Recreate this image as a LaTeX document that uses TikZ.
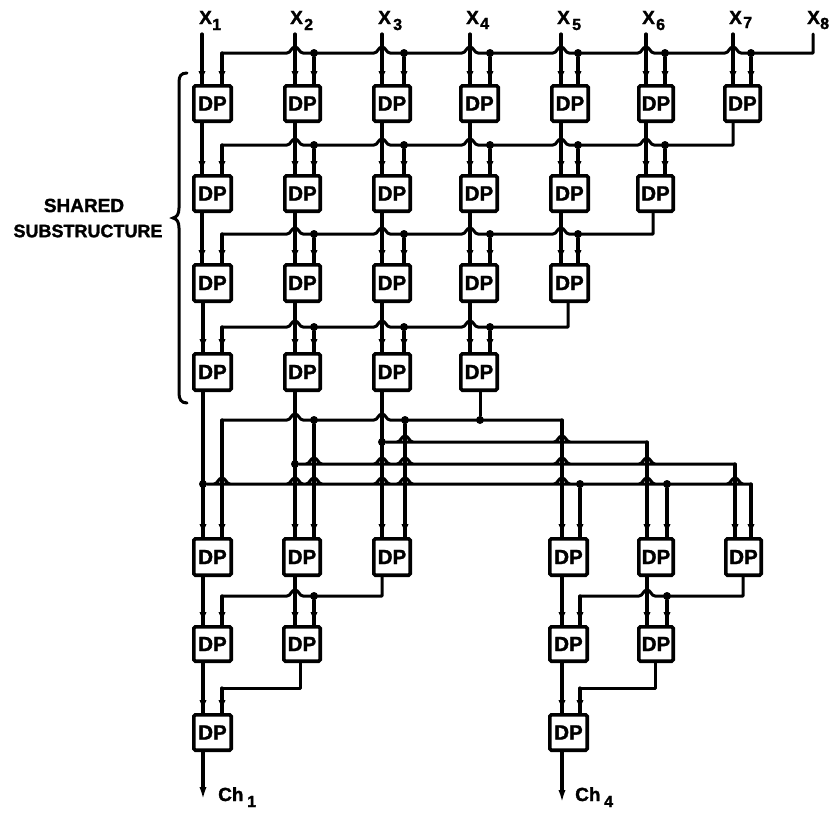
\documentclass[tikz,border=0pt]{standalone}
\usepackage{fontspec}
\setmainfont{Liberation Sans}[BoldFeatures={FakeBold=1.6}]
\usetikzlibrary{arrows.meta,decorations.markings}
\newcommand\dpbox[8]{%
  \node[dpnode,minimum width={(#3-#2-3.6)*1pt},minimum height={(#5-#4-3.6)*1pt}] (#1) at ({(#2+#3)/2},{(#4+#5)/2}) {DP};
  \coordinate (#1-l) at (#6,#4);
  \coordinate (#1-r) at (#7,#4);
  \coordinate (#1-o) at (#8,#5);
}
\newcommand\hops[2]{\foreach \h in {#2} { -- (\h-8,#1) .. controls (\h-4,#1) and (\h-4,#1-6) .. (\h,#1-6) .. controls (\h+4,#1-6) and (\h+4,#1) .. (\h+8,#1) }}
\newcommand\lab[7]{%
  \node[labtext,anchor=base west] (#1) at (#2,#3) {#4};
  \node[subtext,anchor=base west] (#1s) at (#5,#3+#7) {#6};
}
\tikzset{
  dpnode/.style={draw=black,line width=3.6pt,rounded corners=1.5pt,inner sep=0pt,outer sep=0pt,fill=white,
    font=\fontsize{20.5}{20.5}\selectfont\bfseries},
  wire/.style={draw=black,line width=3.2pt,line cap=round},
  bus/.style={draw=black,line width=3pt,line cap=round,line join=round},
  feed/.style={wire,postaction={decorate,decoration={markings,mark=at position -3pt with {\arrow{Latex[length=10pt,width=7.5pt]}}}}},
  outwire/.style={wire,-{Latex[length=14pt,width=7pt]}},
  junct/.style={circle,fill=black,inner sep=0pt,minimum size=8pt},
  labtext/.style={inner sep=0pt,font=\fontsize{19}{19}\selectfont\bfseries},
  subtext/.style={inner sep=0pt,font=\fontsize{16}{16}\selectfont\bfseries},
  sharedtext/.style={inner sep=0pt,font=\fontsize{19}{19}\selectfont\bfseries},
  subtitle/.style={inner sep=0pt,font=\fontsize{18}{18}\selectfont\bfseries},
}
\begin{document}
\begin{tikzpicture}[x=1pt,y=-1pt]
\useasboundingbox (0,0) rectangle (830,812);
% boxes: name, xl, xr, yt, yb, left in, right in, out
\dpbox{d11}{192}{233}{84}{123}{202}{222}{202}
\dpbox{d12}{283}{322}{84}{123}{295}{314}{295}
\dpbox{d13}{372}{412}{84}{123}{382}{404}{382}
\dpbox{d14}{459}{500}{84}{123}{470}{490}{470}
\dpbox{d15}{550}{590}{84}{123}{561}{578}{561}
\dpbox{d16}{637}{675}{84}{123}{646}{665}{646}
\dpbox{d17}{723}{762}{84}{123}{733}{751}{733}
\dpbox{d21}{192}{233}{174}{213}{202}{222}{202}
\dpbox{d22}{283}{322}{174}{213}{295}{314}{295}
\dpbox{d23}{372}{412}{174}{213}{382}{404}{382}
\dpbox{d24}{459}{499}{174}{213}{470}{490}{470}
\dpbox{d25}{549}{590}{174}{213}{561}{578}{561}
\dpbox{d26}{636}{675}{174}{213}{646}{665}{653}
\dpbox{d31}{192}{233}{263}{303}{202}{222}{203}
\dpbox{d32}{283}{322}{263}{303}{295}{314}{295}
\dpbox{d33}{372}{412}{263}{303}{382}{404}{382}
\dpbox{d34}{459}{499}{263}{303}{470}{490}{470}
\dpbox{d35}{549}{590}{263}{303}{561}{578}{568}
\dpbox{d41}{192}{233}{352}{392}{203}{222}{203}
\dpbox{d42}{283}{322}{352}{392}{295}{314}{295}
\dpbox{d43}{372}{412}{352}{392}{382}{404}{382}
\dpbox{d44}{459}{499}{352}{392}{470}{490}{480}
\dpbox{d51}{192}{233}{537}{577}{203}{222}{203}
\dpbox{d52}{282}{322}{537}{577}{295}{314}{295}
\dpbox{d53}{372}{412}{537}{577}{382}{405}{382}
\dpbox{d55}{548}{589}{537}{577}{562}{580}{562}
\dpbox{d56}{637}{675}{537}{577}{647}{667}{647}
\dpbox{d57}{724}{763}{537}{577}{735}{751}{743}
\dpbox{d61}{192}{233}{625}{663}{203}{222}{203}
\dpbox{d62}{282}{322}{625}{663}{295}{314}{300}
\dpbox{d65}{548}{589}{625}{663}{562}{580}{562}
\dpbox{d66}{637}{675}{625}{663}{647}{667}{655}
\dpbox{d71}{192}{233}{713}{752}{203}{222}{203}
\dpbox{d75}{548}{589}{713}{752}{562}{580}{562}
% free ends
\foreach \n/\x in {1/202,2/295,3/382,4/470,5/561,6/646,7/733,8/813} \coordinate (x\n) at (\x,34);
\coordinate (ch1end) at (203,801);
\coordinate (ch4end) at (562,804);
% horizontal buses
\coordinate (b1s) at (222,53); \coordinate (b1e) at (813,53);
\draw[bus] (b1s) \hops{53}{295,382,470,561,646,733} -- (b1e) -- (x8);
\coordinate (b2s) at (222,145); \coordinate (b2e) at (733,145);
\draw[bus] (b2s) \hops{145}{295,382,470,561,646} -- (b2e) -- (d17-o);
\coordinate (b3s) at (222,234); \coordinate (b3e) at (653,234);
\draw[bus] (b3s) \hops{234}{295,382,470,561} -- (b3e) -- (d26-o);
\coordinate (b4s) at (222,327); \coordinate (b4e) at (568,327);
\draw[bus] (b4s) \hops{327}{295,382,470} -- (b4e) -- (d35-o);
% fan-out of the shared substructure
\coordinate (c1s) at (222,420); \coordinate (c1e) at (562,420);
\draw[bus] (c1s) \hops{420}{295,382} -- (c1e);
\node[junct] (j44) at (480,420) {};
\draw[bus] (d44-o) -- (j44);
\node[junct] (j2) at (382,442) {};
\coordinate (c2e) at (647,442);
\draw[bus] (j2) \hops{442}{405,562} -- (c2e);
\node[junct] (j3) at (295,464) {};
\coordinate (c3e) at (735,464);
\draw[bus] (j3) \hops{464}{314,382,405,562,647} -- (c3e);
\node[junct] (j4) at (203,484) {};
\coordinate (c4e) at (751,484);
\draw[bus] (j4) \hops{484}{222,295,314,382,405,562,647,735} -- (c4e);
% lower buses
\coordinate (e1s) at (222,596); \coordinate (e1e) at (382,596);
\draw[bus] (e1s) \hops{596}{295} -- (e1e) -- (d53-o);
\coordinate (e2s) at (580,596); \coordinate (e2e) at (743,596);
\draw[bus] (e2s) \hops{596}{647} -- (e2e) -- (d57-o);
\coordinate (f1s) at (222,688); \coordinate (f1e) at (300,688);
\draw[bus] (f1s) -- (f1e) -- (d62-o);
\coordinate (f2s) at (580,688); \coordinate (f2e) at (655,688);
\draw[bus] (f2s) -- (f2e) -- (d66-o);
% main feeds
\foreach \n in {1,...,7} \draw[feed] (x\n) -- (d1\n-l);
\foreach \n in {1,...,6} \draw[feed] (d1\n-o) -- (d2\n-l);
\foreach \n in {1,...,5} \draw[feed] (d2\n-o) -- (d3\n-l);
\foreach \n in {1,...,4} \draw[feed] (d3\n-o) -- (d4\n-l);
\foreach \n in {1,2,3} \draw[feed] (d4\n-o) -- (d5\n-l);
\draw[feed] (d51-o) -- (d61-l);
\draw[feed] (d52-o) -- (d62-l);
\draw[feed] (d55-o) -- (d65-l);
\draw[feed] (d56-o) -- (d66-l);
\draw[feed] (d61-o) -- (d71-l);
\draw[feed] (d65-o) -- (d75-l);
% left ends of buses to second inputs
\draw[feed] (b1s) -- (d11-r);
\draw[feed] (b2s) -- (d21-r);
\draw[feed] (b3s) -- (d31-r);
\draw[feed] (b4s) -- (d41-r);
\draw[feed] (c1s) -- (d51-r);
\draw[feed] (c1e) -- (d55-l);
\draw[feed] (c2e) -- (d56-l);
\draw[feed] (c3e) -- (d57-l);
\draw[feed] (c4e) -- (d57-r);
\draw[feed] (e1s) -- (d61-r);
\draw[feed] (e2s) -- (d65-r);
\draw[feed] (f1s) -- (d71-r);
\draw[feed] (f2s) -- (d75-r);
% junctions with second inputs
\foreach \n/\x in {2/314,3/404,4/490,5/578,6/665,7/751} {
  \node[junct] (k1\n) at (\x,53) {};
  \draw[feed] (k1\n) -- (d1\n-r);
}
\foreach \n/\x in {2/314,3/404,4/490,5/578,6/665} {
  \node[junct] (k2\n) at (\x,145) {};
  \draw[feed] (k2\n) -- (d2\n-r);
}
\foreach \n/\x in {2/314,3/404,4/490,5/578} {
  \node[junct] (k3\n) at (\x,234) {};
  \draw[feed] (k3\n) -- (d3\n-r);
}
\foreach \n/\x in {2/314,3/404,4/490} {
  \node[junct] (k4\n) at (\x,327) {};
  \draw[feed] (k4\n) -- (d4\n-r);
}
\node[junct] (k52) at (314,420) {};
\draw[feed] (k52) -- (d52-r);
\node[junct] (k53) at (405,420) {};
\draw[feed] (k53) -- (d53-r);
\node[junct] (k55) at (580,484) {};
\draw[feed] (k55) -- (d55-r);
\node[junct] (k56) at (667,484) {};
\draw[feed] (k56) -- (d56-r);
\node[junct] (k62) at (314,596) {};
\draw[feed] (k62) -- (d62-r);
\node[junct] (k66) at (667,596) {};
\draw[feed] (k66) -- (d66-r);
% outputs
\draw[outwire] (d71-o) -- (ch1end);
\draw[outwire] (d75-o) -- (ch4end);
% labels
\lab{lx1}{199}{24}{X}{212}{1}{6}
\lab{lx2}{290}{24}{X}{304}{2}{6}
\lab{lx3}{378}{24}{X}{393}{3}{6}
\lab{lx4}{466}{24}{X}{480}{4}{5}
\lab{lx5}{557}{24}{X}{572}{5}{6}
\lab{lx6}{642}{24}{X}{656}{6}{6}
\lab{lx7}{729}{24}{X}{743}{7}{4}
\lab{lx8}{807}{24}{X}{820}{8}{5}
\lab{lch1}{218}{801}{Ch}{247}{1}{6}
\lab{lch4}{575}{801}{Ch}{604}{4}{6}
\node[sharedtext] (shared) at (84,205.5) {SHARED};
\node[subtitle] (substr) at (88,231) {SUBSTRUCTURE};
% brace
\draw[line width=3pt,line cap=round] (187,73) .. controls (181,73) and (179,76) .. (179,82) -- (179,208) .. controls (179,214) and (177,217) .. (173,218) .. controls (177,219) and (179,222) .. (179,228) -- (179,393) .. controls (179,399) and (181,403) .. (187,403);
\end{tikzpicture}
\end{document}
